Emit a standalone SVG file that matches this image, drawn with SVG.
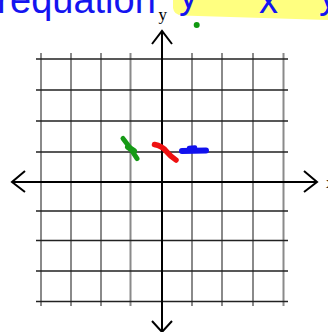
<svg xmlns="http://www.w3.org/2000/svg" width="328" height="332" viewBox="0 0 328 332">
<style>
.vg{stroke:#8a8a8a;stroke-width:2;fill:none}
.hg{stroke:#222;stroke-width:1.3;fill:none}
.ax{stroke:#000;stroke-width:2;fill:none}
.big{font-family:"Liberation Sans",Arial,sans-serif;font-size:38px;fill:#1414f0}
.lbl{font-family:"Liberation Serif","Times New Roman",serif;font-size:17px;fill:#000}
.ink{fill:none;stroke-linecap:round;stroke-linejoin:round}
</style>
<rect width="328" height="332" fill="#fff"/>
<g id="title">
<path d="M173,-5 L328,-5 L328,20 L182,15.5 Q174,15 173,8 Z" fill="#ffff80"/>
<text class="big" x="-3" y="13">r</text>
<text class="big" x="10" y="13">equation</text>
<text class="big" x="179" y="8">y</text>
<text class="big" x="259" y="13">x</text>
<text class="big" x="319" y="8">y</text>
<circle cx="196.7" cy="25" r="3" fill="#119911"/>
</g>
<g id="grid">
<path class="vg" d="M41,53V306M71,53V306M101,53V306M130.5,53V306M192,53V306M222,53V306M253,53V306M283.5,53V306"/>
<path class="hg" d="M36,59H288M36,90H288M36,121H288M36,152H288M36,211H288M36,240.5H288M36,271H288M36,301.5H288"/>
</g>
<g id="axes">
<path class="ax" d="M162,31V332M12,182H317"/>
<path class="ax" d="M152,44L162,31L172,44"/>
<path class="ax" d="M152,321L162,332L172,321"/>
<path class="ax" d="M25,171L12,182L25,192"/>
<path class="ax" d="M304,171L317,182L304,192"/>
<text class="lbl" x="158.5" y="19.5">y</text>
<text class="lbl" x="326" y="188">x</text>
</g>
<g id="marks">
<path class="ink" stroke="#169a16" stroke-width="5" d="M123,138.5 Q130,147 137,158.5"/>
<path class="ink" stroke="#169a16" stroke-width="6" d="M128,147 L134,151"/>
<path class="ink" stroke="#ee1111" stroke-width="5.5" d="M154.5,144.5 Q162,146 166,151 Q171,157 176,160"/>
<path class="ink" stroke="#1111ee" stroke-width="6" d="M182,151 L206,150.5"/>
<path class="ink" stroke="#1111ee" stroke-width="4.5" d="M189,148 L195,147.5"/>
</g>
</svg>
